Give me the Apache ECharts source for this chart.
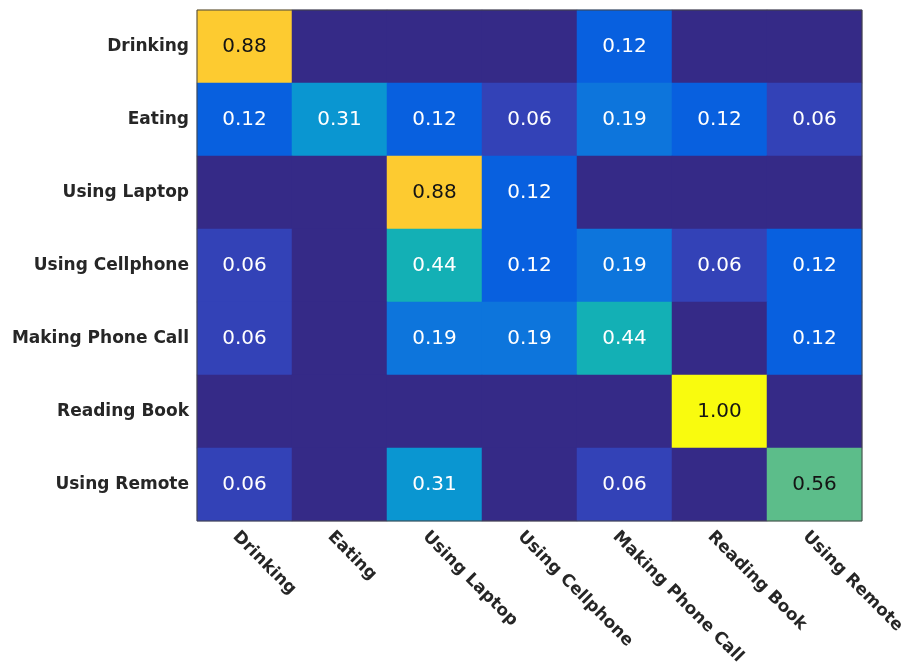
<!DOCTYPE html>
<html>
<head>
<meta charset="utf-8">
<script src="https://cdn.jsdelivr.net/npm/echarts@6/dist/echarts.min.js"></script>
<style>html,body{margin:0;padding:0;background:#fff;}#c{width:908px;height:663px;}</style>
</head>
<body>
<div id="c"></div>
<script>
const classes = ['Drinking','Eating','Using Laptop','Using Cellphone','Making Phone Call','Reading Book','Using Remote'];
// rows = true class (y), columns = predicted (x)
const rowDrinking        = [0.88, 0.00, 0.00, 0.00, 0.12, 0.00, 0.00];
const rowEating          = [0.12, 0.31, 0.12, 0.06, 0.19, 0.12, 0.06];
const rowUsingLaptop     = [0.00, 0.00, 0.88, 0.12, 0.00, 0.00, 0.00];
const rowUsingCellphone  = [0.06, 0.00, 0.44, 0.12, 0.19, 0.06, 0.12];
const rowMakingPhoneCall = [0.06, 0.00, 0.19, 0.19, 0.44, 0.00, 0.12];
const rowReadingBook     = [0.00, 0.00, 0.00, 0.00, 0.00, 1.00, 0.00];
const rowUsingRemote     = [0.06, 0.00, 0.31, 0.00, 0.06, 0.00, 0.56];
const rows = [rowDrinking, rowEating, rowUsingLaptop, rowUsingCellphone, rowMakingPhoneCall, rowReadingBook, rowUsingRemote];

const parula = [
[0.2081,0.1663,0.5292],[0.2116,0.1898,0.5777],[0.2123,0.2138,0.6270],[0.2081,0.2386,0.6771],
[0.1959,0.2645,0.7279],[0.1707,0.2919,0.7792],[0.1253,0.3242,0.8303],[0.0591,0.3598,0.8683],
[0.0117,0.3875,0.8820],[0.0060,0.4086,0.8828],[0.0165,0.4266,0.8786],[0.0329,0.4430,0.8720],
[0.0498,0.4586,0.8641],[0.0629,0.4737,0.8554],[0.0723,0.4887,0.8467],[0.0779,0.5040,0.8384],
[0.0793,0.5200,0.8312],[0.0749,0.5375,0.8263],[0.0641,0.5570,0.8240],[0.0488,0.5772,0.8228],
[0.0343,0.5966,0.8199],[0.0265,0.6137,0.8135],[0.0239,0.6287,0.8038],[0.0231,0.6418,0.7913],
[0.0228,0.6535,0.7768],[0.0267,0.6642,0.7607],[0.0384,0.6743,0.7436],[0.0590,0.6838,0.7254],
[0.0843,0.6928,0.7062],[0.1133,0.7015,0.6859],[0.1453,0.7098,0.6646],[0.1801,0.7177,0.6424],
[0.2178,0.7250,0.6193],[0.2586,0.7317,0.5954],[0.3022,0.7376,0.5712],[0.3482,0.7424,0.5473],
[0.3953,0.7459,0.5244],[0.4420,0.7481,0.5033],[0.4871,0.7491,0.4840],[0.5300,0.7491,0.4661],
[0.5709,0.7485,0.4494],[0.6099,0.7473,0.4337],[0.6473,0.7456,0.4188],[0.6834,0.7435,0.4044],
[0.7184,0.7411,0.3905],[0.7525,0.7384,0.3768],[0.7858,0.7356,0.3633],[0.8185,0.7327,0.3498],
[0.8507,0.7299,0.3360],[0.8824,0.7274,0.3217],[0.9139,0.7258,0.3063],[0.9450,0.7261,0.2886],
[0.9739,0.7314,0.2666],[0.9938,0.7455,0.2403],[0.9990,0.7653,0.2164],[0.9955,0.7861,0.1967],
[0.9880,0.8066,0.1794],[0.9789,0.8271,0.1633],[0.9697,0.8481,0.1475],[0.9626,0.8705,0.1309],
[0.9589,0.8949,0.1132],[0.9598,0.9218,0.0948],[0.9661,0.9514,0.0755],[0.9763,0.9831,0.0538]
].map(c => 'rgb(' + c.map(v => Math.round(v*255)).join(',') + ')');

const data = [];
rows.forEach((r, yi) => r.forEach((v, xi) => data.push([xi, yi, v])));

const chart = echarts.init(document.getElementById('c'), null, {renderer: 'canvas'});
const FONT = 'DejaVu Sans';
chart.setOption({
  animation: false,
  backgroundColor: '#ffffff',
  textStyle: {fontFamily: FONT},
  grid: {left: 197, top: 10, width: 665, height: 511, outerBoundsMode: 'none', containLabel: false,
         show: true, borderColor: '#444', borderWidth: 1, backgroundColor: 'transparent', z: 10},
  xAxis: {
    type: 'category', data: classes, position: 'bottom',
    axisLine: {show: false}, axisTick: {show: false}, splitLine: {show: false},
    axisLabel: {rotate: -45, margin: 4, fontFamily: FONT, fontWeight: 'bold', fontSize: 17, lineHeight: 26,
                color: '#262626', interval: 0, formatter: v => '\n' + v}
  },
  yAxis: {
    type: 'category', data: classes, inverse: true,
    axisLine: {show: false}, axisTick: {show: false}, splitLine: {show: false},
    axisLabel: {margin: 8, fontFamily: FONT, fontWeight: 'bold', fontSize: 17, color: '#262626', interval: 0}
  },
  visualMap: {type: 'continuous', show: false, min: 0, max: 1, dimension: 2, inRange: {color: parula}},
  series: [{
    type: 'heatmap', data: data,
    itemStyle: {borderWidth: 0},
    label: {
      show: true, fontFamily: FONT,
      formatter: p => {
        const v = p.value[2];
        if (v === 0) return '';
        return (v > 0.5 ? '{d|' : '{l|') + v.toFixed(2) + '}';
      },
      rich: {
        d: {color: '#141414', fontSize: 20, fontFamily: FONT},
        l: {color: '#ffffff', fontSize: 20, fontFamily: FONT}
      }
    },
    emphasis: {disabled: true}
  }]
});
</script>
</body>
</html>
